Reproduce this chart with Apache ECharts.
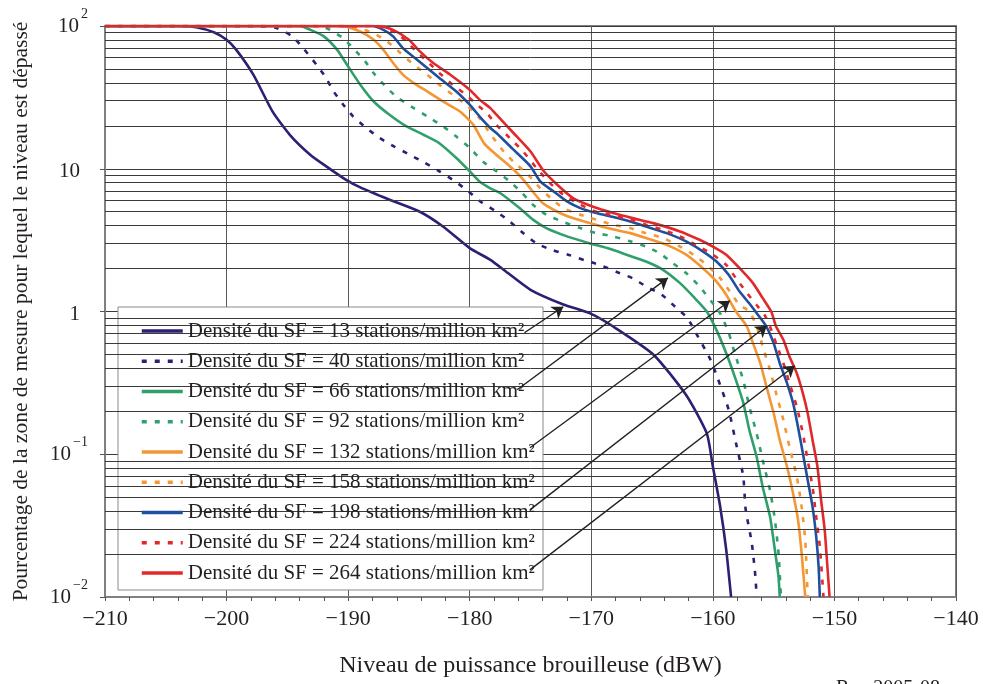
<!DOCTYPE html>
<html>
<head>
<meta charset="utf-8">
<script src="https://cdn.jsdelivr.net/npm/echarts@6/dist/echarts.min.js"></script>
<style>
html,body{margin:0;padding:0;background:#fff;}
#c{width:983px;height:684px;}
</style>
</head>
<body>
<div id="c"></div>
<script>
// ---- data (x: dBW, y: % of area) ----
const seriesNames = [
  'Densité du SF = 13 stations/million km²',
  'Densité du SF = 40 stations/million km²',
  'Densité du SF = 66 stations/million km²',
  'Densité du SF = 92 stations/million km²',
  'Densité du SF = 132 stations/million km²',
  'Densité du SF = 158 stations/million km²',
  'Densité du SF = 198 stations/million km²',
  'Densité du SF = 224 stations/million km²',
  'Densité du SF = 264 stations/million km²'
];
const sf13 = [[-210,100],[-204,100],[-202.5,98],[-201,90],[-200,80],[-199.2,68],[-197.8,45.6],[-196.2,25],[-194.8,17.3],[-193.1,12.5],[-191.8,10.4],[-190.2,8.4],[-189,7.4],[-186.6,6.07],[-184.1,5.0],[-182.2,3.94],[-180,2.78],[-178.3,2.3],[-177,1.9],[-175,1.42],[-172.3,1.12],[-170.1,0.97],[-168.2,0.785],[-164.9,0.5],[-162.2,0.26],[-160.5,0.14],[-160,0.082],[-159.4,0.043],[-158.9,0.0214],[-158.5,0.01]];
const sf40 = [[-210,100],[-197.5,100],[-195.9,97],[-194.6,84.6],[-193.7,70],[-192.6,53.5],[-191.9,44.4],[-191.2,34.8],[-190.4,28.1],[-189.6,23.3],[-188.5,19.3],[-187.4,16.4],[-186.2,14.3],[-184.9,12.5],[-183.7,11],[-182.5,9.6],[-181.2,8.15],[-180.1,6.93],[-179,5.8],[-177.8,5.0],[-176.7,4.27],[-175.6,3.54],[-174.5,3.0],[-173.3,2.71],[-171.9,2.5],[-170.5,2.28],[-169.3,2.12],[-167.9,1.89],[-166.6,1.71],[-165.5,1.5],[-164.2,1.31],[-163.1,1.08],[-162.1,0.9],[-161.4,0.71],[-160.2,0.46],[-159.6,0.34],[-158.7,0.205],[-158.1,0.12],[-157.5,0.07],[-157.3,0.041],[-156.8,0.024],[-156.5,0.0139],[-156.4,0.01]];
const sf66 = [[-210,100],[-194,100],[-193.1,94],[-192,84.6],[-190.9,68],[-190,52],[-189,38.8],[-187.9,29.6],[-186.6,23.9],[-185.2,19.8],[-183.8,17.3],[-182.5,15.1],[-181.1,11.9],[-180,9.6],[-179.2,8.15],[-178.3,7.3],[-177.5,6.76],[-175.9,5.3],[-174.8,4.4],[-173.7,3.84],[-172,3.36],[-170.1,3.0],[-168.7,2.78],[-167.1,2.5],[-165.5,2.24],[-164.1,1.96],[-162.7,1.58],[-161.6,1.27],[-160.5,1.0],[-159.7,0.74],[-158.9,0.51],[-158.2,0.35],[-157.5,0.23],[-157,0.148],[-156.4,0.096],[-155.9,0.059],[-155.3,0.0366],[-154.9,0.0214],[-154.6,0.0139],[-154.5,0.01]];
const sf92 = [[-210,100],[-192.3,100],[-191.5,94],[-190.4,82],[-189.6,70],[-188.6,56.5],[-187.8,45.6],[-186.8,36.8],[-185.9,31.3],[-184.6,26.6],[-183.5,23.3],[-182.2,19.8],[-181.1,16.8],[-180,14],[-178.9,11.2],[-177.8,9.6],[-176.7,8.15],[-175.7,6.76],[-174.8,5.6],[-173.7,4.76],[-172.4,4.27],[-170.9,3.84],[-169.6,3.54],[-168.2,3.36],[-166.8,3.1],[-165.5,2.85],[-164.4,2.57],[-163.3,2.18],[-162.2,1.86],[-161.1,1.5],[-160.1,1.17],[-159.4,0.97],[-158.7,0.71],[-158.2,0.51],[-157.5,0.33],[-157,0.216],[-156.4,0.14],[-155.9,0.091],[-155.3,0.056],[-154.9,0.035],[-154.6,0.0203],[-154.4,0.01]];
const sf132 = [[-210,100],[-190.5,100],[-189,91.6],[-187.9,80],[-187.1,68],[-186.3,55],[-185.5,45.6],[-184.6,39.8],[-183.5,34.8],[-182.2,29.6],[-180.8,25.2],[-179.7,20.3],[-178.8,15],[-177.8,12.5],[-176.7,10.4],[-175.7,8.6],[-174.8,6.9],[-174,5.75],[-173.1,5.16],[-171.9,4.63],[-170.1,4.16],[-168.7,3.84],[-166.8,3.54],[-165.5,3.27],[-163.8,2.93],[-162.2,2.5],[-160.8,2.0],[-159.7,1.62],[-158.9,1.31],[-158.1,1.0],[-157.2,0.785],[-156.7,0.6],[-156.1,0.435],[-155.6,0.3],[-155,0.194],[-154.5,0.126],[-153.9,0.082],[-153.4,0.053],[-153,0.035],[-152.7,0.0203],[-152.4,0.01]];
const sf158 = [[-210,100],[-190.5,100],[-189.3,97],[-187.9,89],[-186.8,78],[-185.7,64.7],[-184.6,53.6],[-183.5,45.6],[-182.5,38.8],[-181.4,33],[-180.3,28.1],[-179.2,22.7],[-178.3,17.5],[-177.2,13.2],[-176.3,11],[-175.2,9.1],[-174.2,7.3],[-173.3,6.2],[-172.3,5.3],[-170.9,4.76],[-169.6,4.4],[-168.2,4.05],[-166.8,3.84],[-165.5,3.54],[-164.1,3.27],[-162.7,2.85],[-161.6,2.5],[-160.5,2.12],[-159.4,1.71],[-158.6,1.38],[-157.8,1.11],[-157,1.0],[-156.4,0.785],[-155.9,0.57],[-155.3,0.39],[-154.8,0.268],[-154.2,0.174],[-153.7,0.113],[-153.1,0.07],[-152.7,0.043],[-152.4,0.025],[-152.2,0.01]];
const sf198 = [[-210,100],[-188,100],[-187.1,94],[-186.3,84.6],[-185.5,70],[-184.5,59.7],[-183.5,50.8],[-182.5,43.2],[-181.1,34.8],[-180,28.1],[-179.2,23.3],[-178.3,19.3],[-177.8,17.8],[-176.4,13.6],[-175,10.4],[-174.2,8.15],[-173.1,6.93],[-172,5.9],[-170.9,5.3],[-169.6,4.9],[-168.2,4.59],[-166.8,4.27],[-165.5,3.94],[-163.8,3.54],[-162.2,3.1],[-160.8,2.63],[-159.7,2.24],[-158.7,1.81],[-157.8,1.38],[-156.9,1.11],[-156.3,0.95],[-155.6,0.785],[-155,0.6],[-154.5,0.435],[-153.9,0.315],[-153.4,0.228],[-153,0.156],[-152.6,0.102],[-152.2,0.066],[-151.8,0.043],[-151.5,0.0265],[-151.3,0.0163],[-151.2,0.01]];
const sf224 = [[-210,100],[-188,100],[-187.1,97],[-186,89],[-185.2,78],[-184.4,66.4],[-183.5,56.5],[-182.5,46.9],[-181.4,38.8],[-180.3,33],[-179.4,28.1],[-178.6,24.6],[-177.8,20.3],[-176.7,16.4],[-175.6,13.2],[-174.5,10.1],[-173.4,7.94],[-172.3,6.58],[-170.9,5.6],[-169.6,5.0],[-168.2,4.71],[-166.8,4.4],[-165.5,4.05],[-164.1,3.74],[-162.7,3.36],[-161.4,2.93],[-160,2.5],[-158.9,2.12],[-158.1,1.71],[-157.2,1.35],[-156.4,1.11],[-155.7,0.93],[-155.3,0.785],[-154.8,0.6],[-154.2,0.435],[-153.7,0.315],[-153.1,0.216],[-152.6,0.14],[-152.2,0.091],[-151.8,0.059],[-151.5,0.0366],[-151.2,0.0225],[-150.9,0.01]];
const sf264 = [[-210,100],[-187.5,100],[-186.3,94],[-185,80],[-184.1,66.4],[-183,55],[-181.6,45.6],[-180,35.8],[-179.2,30.5],[-178.3,26.6],[-177.8,23.9],[-176.4,17.8],[-175,13.2],[-173.9,9.6],[-172.8,7.73],[-171.5,6.23],[-169.8,5.4],[-168.2,4.9],[-166.6,4.51],[-164.9,4.16],[-162.7,3.64],[-161.1,3.18],[-160,2.85],[-158.9,2.5],[-157.8,2.01],[-156.7,1.58],[-155.9,1.24],[-155.2,1.0],[-154.8,0.785],[-154.2,0.634],[-153.7,0.484],[-153.1,0.37],[-152.6,0.268],[-152.2,0.194],[-151.8,0.126],[-151.4,0.082],[-151.1,0.048],[-150.8,0.0295],[-150.6,0.0173],[-150.4,0.01]];
const seriesData = [sf13, sf40, sf66, sf92, sf132, sf158, sf198, sf224, sf264];
const seriesColors = ['#2b2076','#2b2076','#2fa06c','#2fa06c','#f39633','#f39633','#1f4f9f','#e3282b','#e3282b'];
const seriesDashed = [false,true,false,true,false,true,false,true,false];

// tick labels
const xTicks = [-210,-200,-190,-180,-170,-160,-150,-140];
const yTickBase = {'-2':'10','-1':'10','0':'1','1':'10','2':'10'};
const yTickSup  = {'-2':'\u22122','-1':'\u22121','0':'','1':'','2':'2'};

// annotation arrows: [from (legend end), to (curve)] in data coordinates
const arrowFrom = [[-175.5,0.71],[-176.1,0.283],[-175.05,0.111],[-175.05,0.0408],[-175.05,0.0155]];
const arrowTo   = [[-172.3,1.08],[-163.7,1.72],[-158.6,1.19],[-155.56,0.794],[-153.26,0.417]];

// ---- chart ----
const FONT = 'Liberation Serif';
const minorGrid = [];
for (let k = -2; k < 2; k++) for (let m = 2; m <= 9; m++) minorGrid.push({yAxis: m * Math.pow(10, k)});

const series = seriesNames.map((n, i) => ({
  name: n,
  type: 'line',
  data: seriesData[i],
  showSymbol: false,
  symbol: 'none',
  smooth: 0.2,
  z: 3,
  lineStyle: {color: seriesColors[i], width: 2.6, type: seriesDashed[i] ? [5, 8] : 'solid'},
  itemStyle: {color: seriesColors[i]}
}));
series.unshift({
  type: 'line', data: [], silent: true, z: 1,
  markLine: {
    silent: true, symbol: ['none','none'], label: {show: false},
    lineStyle: {type: 'solid', color: '#3a3a3a', width: 1},
    data: minorGrid, animation: false
  }
});
series.push({
  type: 'lines', coordinateSystem: 'cartesian2d', silent: true, z: 10,
  symbol: ['none','arrow'], symbolSize: 11,
  lineStyle: {color: '#222', width: 1.4, opacity: 1},
  data: arrowFrom.map((f, i) => ({coords: [f, arrowTo[i]]}))
});

const chart = echarts.init(document.getElementById('c'), null, {renderer: 'canvas'});
chart.setOption({
  animation: false,
  backgroundColor: '#fff',
  grid: {left: 105, right: 27, top: 26, bottom: 87, show: true, borderColor: '#808080', borderWidth: 2},
  xAxis: {
    type: 'value', min: -210, max: -140, interval: 10,
    name: 'Niveau de puissance brouilleuse (dBW)', nameLocation: 'middle', nameGap: 57,
    nameTextStyle: {fontFamily: FONT, fontSize: 24, color: '#231f20'},
    axisLine: {lineStyle: {color: '#808080', width: 2}},
    axisTick: {show: true, length: 4, lineStyle: {color: '#555'}},
    minorTick: {show: true, splitNumber: 5, length: 4, lineStyle: {color: '#555'}},
    splitLine: {show: true, lineStyle: {color: '#5a5a5a', width: 1}},
    axisLabel: {fontFamily: FONT, fontSize: 22, color: '#231f20', margin: 11,
      formatter: v => xTicks.indexOf(v) >= 0 ? (v < 0 ? '\u2212' + Math.abs(v) : String(v)) : ''}
  },
  yAxis: {
    type: 'log', logBase: 10, min: 0.01, max: 100,
    name: 'Pourcentage de la zone de mesure pour lequel le niveau est dépassé',
    nameLocation: 'middle', nameGap: 73,
    nameTextStyle: {fontFamily: FONT, fontSize: 21.5, color: '#231f20'},
    axisLine: {show: true, lineStyle: {color: '#808080', width: 2}},
    axisTick: {show: true, length: 5, lineStyle: {color: '#555'}},
    splitLine: {show: true, lineStyle: {color: '#3a3a3a', width: 1}},
    axisLabel: {
      margin: 17,
      formatter: v => {
        const e = String(Math.round(Math.log10(v)));
        const sup = yTickSup[e];
        return sup ? '{b|' + yTickBase[e] + '}{s|' + sup + '}' : '{p|' + yTickBase[e] + '}';
      },
      rich: {
        b: {fontFamily: FONT, fontSize: 21, color: '#231f20', lineHeight: 24},
        p: {fontFamily: FONT, fontSize: 21, color: '#231f20', padding: [6, 8, 0, 0]},
        s: {fontFamily: FONT, fontSize: 14, color: '#231f20', lineHeight: 24, padding: [0, 0, 24, 2]}
      }
    }
  },
  legend: {
    orient: 'vertical', left: 118, top: 307, padding: [12, 4, 6, 22],
    itemWidth: 41, itemHeight: 14, itemGap: 6.25, z: 6,
    data: seriesNames,
    itemStyle: {opacity: 0, borderWidth: 0},
    lineStyle: {width: 3.5},
    textStyle: {fontFamily: FONT, fontSize: 21, color: '#231f20', lineHeight: 24}
  },
  graphic: [
    {type: 'rect', z: 5, shape: {x: 118, y: 307, width: 425, height: 283},
     style: {fill: '#fff', stroke: '#8a8a8a', lineWidth: 1}},
    {type: 'text', left: 836, top: 679, z: 5,
     style: {text: 'Rap 2005-08', font: '20px "Liberation Serif"', fill: '#231f20'}}
  ],
  series: series
});
</script>
</body>
</html>
